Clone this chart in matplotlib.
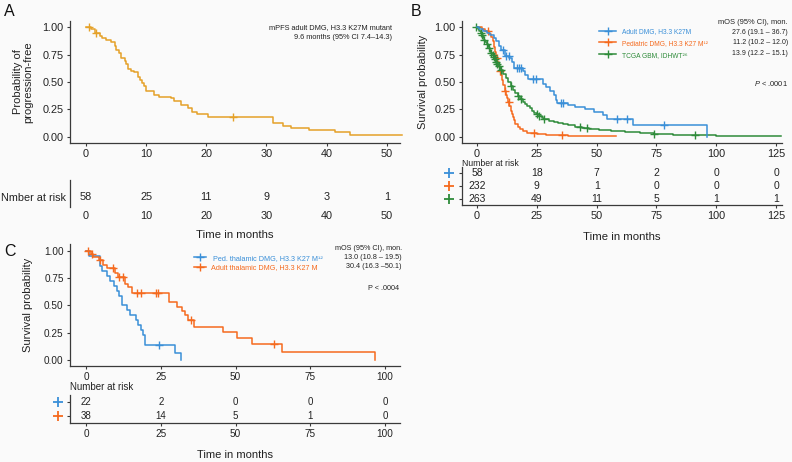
import numpy as np
import matplotlib
matplotlib.use('Agg')
import matplotlib.pyplot as plt
from matplotlib.lines import Line2D
from matplotlib.transforms import blended_transform_factory

plt.rcParams['font.family'] = ['Liberation Sans', 'DejaVu Sans']
plt.rcParams['mathtext.fontset'] = 'custom'
plt.rcParams['mathtext.rm'] = 'Liberation Sans'
plt.rcParams['mathtext.it'] = 'Liberation Sans:italic'

# ---------------- Panel A data ----------------
a_times = [0, 0.8, 1.5, 2.3, 2.6, 3.4, 4.2, 4.9, 5.0, 5.5, 5.8, 6.5, 6.7, 6.9, 7.4, 7.9,
           8.6, 8.9, 9.3, 9.6, 10.0, 11.3, 12.2, 14.1, 14.7, 15.8, 17.0, 17.7, 18.5, 20.2,
           31.1, 32.8, 34.1, 37.1, 41.4, 43.9]
a_surv = [1.0, 0.983, 0.95, 0.92, 0.90, 0.88, 0.86, 0.83, 0.79, 0.76, 0.72, 0.69, 0.66, 0.62,
          0.60, 0.59, 0.55, 0.52, 0.49, 0.46, 0.42, 0.38, 0.36, 0.35, 0.33, 0.29, 0.26, 0.23,
          0.21, 0.18, 0.13, 0.10, 0.083, 0.065, 0.043, 0.02]
a_end = 52.5
a_cens = [0.5, 1.7, 24.5]
a_risk_times = [0, 10, 20, 30, 40, 50]
a_risk = [58, 25, 11, 9, 3, 1]

# ---------------- Panel B data ----------------
b_labels = ['Adult DMG, H3.3 K27M', 'Pediatric DMG, H3.3 K27 M\u00b9\u00b2', 'TCGA GBM, IDHWT\u00b2\u2076']
b_mos = ['27.6 (19.1 \u2013 36.7)', '11.2 (10.2 \u2013 12.0)', '13.9 (12.2 \u2013 15.1)']

b1_times = [0, 1, 2.5, 4, 5.5, 7, 8, 9, 10, 11.5, 13.5, 14.5, 15.5, 19, 20, 21.5, 27.5, 29,
            30.5, 32, 33, 33.5, 38, 41, 45, 49, 52.5, 54.5, 65.3, 96.3]
b1_surv = [1.0, 0.983, 0.966, 0.95, 0.93, 0.90, 0.87, 0.83, 0.79, 0.74, 0.72, 0.68, 0.63, 0.60,
           0.56, 0.53, 0.48, 0.45, 0.42, 0.38, 0.34, 0.31, 0.29, 0.27, 0.25, 0.23, 0.20, 0.165,
           0.105, 0.0]
b1_end = 96.3
b1_cens = [10.9, 12.0, 13.4, 16.5, 17.5, 18.5, 23.4, 24.5, 35.0, 36.0, 58.5, 62.5, 78.2]

b2_times = [0, 2, 3.5, 5, 6, 6.5, 7, 7.5, 8, 8.5, 9, 9.5, 10, 10.5, 11, 11.5, 12, 12.5, 13,
            13.5, 14, 14.5, 15, 15.5, 16, 17, 18, 19, 21, 25, 29, 38]
b2_surv = [1.0, 0.985, 0.965, 0.94, 0.91, 0.87, 0.82, 0.77, 0.72, 0.68, 0.64, 0.60, 0.56, 0.52,
           0.47, 0.42, 0.38, 0.35, 0.32, 0.28, 0.24, 0.21, 0.18, 0.15, 0.12, 0.09, 0.07, 0.05,
           0.04, 0.03, 0.02, 0.012]
b2_end = 58
b2_cens = [4.6, 8.2, 9.5, 11.6, 13.4, 24.0, 35.6]

b3_times = [0, 0.5, 1, 1.5, 2, 2.5, 3, 3.5, 4, 4.5, 5, 5.5, 6, 6.5, 7, 7.5, 8, 8.5, 9, 9.5, 10,
            11, 12, 13, 14, 15, 16, 17, 18, 19, 20, 21, 22, 23, 24, 25, 26, 27, 28, 30, 32, 34,
            36, 38, 41, 44, 47, 51, 56, 62, 68, 74, 82, 90, 100]
b3_surv = [1.0, 0.985, 0.965, 0.945, 0.925, 0.905, 0.885, 0.865, 0.845, 0.825, 0.805, 0.785,
           0.765, 0.745, 0.725, 0.705, 0.685, 0.665, 0.645, 0.625, 0.605, 0.57, 0.535, 0.50,
           0.465, 0.43, 0.40, 0.37, 0.345, 0.32, 0.30, 0.28, 0.26, 0.24, 0.22, 0.205, 0.19,
           0.175, 0.16, 0.145, 0.135, 0.125, 0.115, 0.105, 0.095, 0.085, 0.075, 0.065, 0.055,
           0.045, 0.038, 0.03, 0.022, 0.015, 0.012]
b3_end = 127
b3_cens = [-0.5, 1.5, 2.2, 3.0, 4.0, 5.0, 6.0, 6.5, 7.0, 7.5, 8.0, 8.5, 9.0, 10.0, 14.0, 17.0,
           18.5, 25.0, 26.0, 28.0, 43.0, 46.0, 74.0, 91.0]

b_risk_times = [0, 25, 50, 75, 100, 125]
b_risk = [[58, 18, 7, 2, 0, 0],
          [232, 9, 1, 0, 0, 0],
          [263, 49, 11, 5, 1, 1]]

# ---------------- Panel C data ----------------
c_labels = [' Ped. thalamic DMG, H3.3 K27 M\u00b9\u00b2', 'Adult thalamic DMG, H3.3 K27 M']
c_mos = ['13.0 (10.8 \u2013 19.5)', '30.4 (16.3 \u201350.1)']

c1_times = [0, 1, 4.7, 5.5, 7, 8, 9.5, 10.5, 11.2, 11.9, 13.6, 14.7, 16.7, 17.5, 18.3, 19.2,
            19.8, 29.7, 31.8]
c1_surv = [1.0, 0.955, 0.864, 0.818, 0.773, 0.727, 0.682, 0.636, 0.591, 0.5, 0.455, 0.409,
           0.364, 0.318, 0.273, 0.227, 0.136, 0.068, 0.0]
c1_end = 31.8
c1_cens = [24.5]

c2_times = [0, 1.6, 2.5, 4.5, 5.8, 7, 9.7, 10.8, 13, 14.2, 15.3, 27.6, 30.3, 32, 33.2, 34.2,
            36, 45.9, 50.4, 55.5, 65.4, 96.6]
c2_surv = [1.0, 0.974, 0.947, 0.921, 0.868, 0.842, 0.80, 0.763, 0.70, 0.67, 0.615, 0.535,
           0.49, 0.45, 0.41, 0.37, 0.305, 0.26, 0.20, 0.15, 0.075, 0.0]
c2_end = 96.6
c2_cens = [0.8, 2.0, 4.7, 9.1, 11.2, 12.5, 17.0, 18.5, 23.3, 24.2, 35.0, 62.8]

c_risk_times = [0, 25, 50, 75, 100]
c_risk = [[22, 2, 0, 0, 0],
          [38, 14, 5, 1, 0]]

# ---------------- styling ----------------
W, H = 792, 462
BG = '#fafafa'
SP = '#3a3a3a'
GOLD = '#E5A128'
BLUE = '#3A8FD8'
ORANGE = '#F56A1E'
GREEN = '#2E8B3A'
TXT = '#222222'

fig = plt.figure(figsize=(W / 100, H / 100), dpi=100)
fig.patch.set_facecolor(BG)


def rect(l, t, r, b):
    return [l / W, 1 - b / H, (r - l) / W, (b - t) / H]


def fy(y):
    return 1 - y / H


def fx(x):
    return x / W


def style(ax, xlim, ylim, xticks, fs, yticks=None, bottom=True):
    ax.set_facecolor(BG)
    ax.patch.set_alpha(0)
    for s in ['top', 'right']:
        ax.spines[s].set_visible(False)
    for s in ['left', 'bottom']:
        ax.spines[s].set_color(SP)
        ax.spines[s].set_linewidth(0.9)
    ax.spines['bottom'].set_visible(bottom)
    ax.set_xlim(*xlim)
    ax.set_ylim(*ylim)
    ax.set_xticks(xticks)
    ax.tick_params(axis='both', colors=SP, labelcolor=TXT, labelsize=fs, length=2.5, width=0.8, pad=2)
    if yticks is not None:
        ax.set_yticks(yticks)


def km(ax, times, surv, end, cens, color):
    t = list(times) + [end]
    s = list(surv) + [surv[-1]]
    ax.step(t, s, where='post', color=color, lw=1.1, clip_on=False)
    ct = np.array(cens)
    idx = np.clip(np.searchsorted(times, ct, side='right') - 1, 0, None)
    cs = np.array(surv)[idx]
    ax.plot(ct, cs, linestyle='none', marker='+', color=color, ms=6, mew=1.0, clip_on=False)


yt = [0, 0.25, 0.5, 0.75, 1.0]
ytl = ['0.00', '0.25', '0.50', '0.75', '1.00']

# ================= Panel A =================
axA = fig.add_axes(rect(70, 21, 400, 143))
style(axA, (-2.66, 52.2), (-0.055, 1.055), a_risk_times, 7.8, yt)
axA.set_yticklabels(ytl)
km(axA, a_times, a_surv, a_end, a_cens, GOLD)
fig.text(fx(392), fy(28), 'mPFS adult DMG, H3.3 K27M mutant', ha='right', va='center', fontsize=5.3, color=TXT)
fig.text(fx(392), fy(37.5), '9.6 months (95% CI 7.4\u201314.3)', ha='right', va='center', fontsize=5.3, color=TXT)
fig.text(fx(23), fy(82), 'Probability of\nprogression-free', rotation=90, ha='center', va='center',
         fontsize=8, color=TXT, linespacing=1.05)
fig.text(fx(4), fy(12), 'A', fontsize=11.5, ha='left', va='center', color='#111111')

axAr = fig.add_axes(rect(70, 180, 400, 207))
style(axAr, (-2.66, 52.2), (0, 1), a_risk_times, 7.8, [0.37], bottom=False)
axAr.tick_params(axis='x', length=0, pad=3)
axAr.tick_params(axis='y', length=0, pad=3)
axAr.set_yticklabels(['Nmber at risk'])
for t, n in zip(a_risk_times, a_risk):
    axAr.text(t, 0.37, str(n), ha='center', va='center', fontsize=7.8, color=TXT)
fig.text(fx(235), fy(235), 'Time in months', ha='center', va='center', fontsize=8.2, color=TXT)

# ================= Panel B =================
axB = fig.add_axes(rect(462, 21, 782, 143))
style(axB, (-6.3, 127.5), (-0.055, 1.055), b_risk_times, 7.8, yt)
axB.tick_params(axis='x', pad=1.5)
axB.set_yticklabels(ytl)
b_colors = [BLUE, ORANGE, GREEN]
km(axB, b2_times, b2_surv, b2_end, b2_cens, ORANGE)
km(axB, b3_times, b3_surv, b3_end, b3_cens, GREEN)
km(axB, b1_times, b1_surv, b1_end, b1_cens, BLUE)
handles = [Line2D([], [], color=c, marker='+', ms=6, mew=1.0, lw=1.1) for c in b_colors]
legB = axB.legend(handles, b_labels, loc='upper left', bbox_to_anchor=(fx(599), fy(28)),
                  bbox_transform=fig.transFigure, frameon=False, fontsize=4.8, handlelength=2.6,
                  handletextpad=0.9, labelspacing=0.72, borderpad=0, borderaxespad=0,
                  labelcolor='linecolor')
fig.text(fx(788), fy(23), 'mOS (95% CI), mon.', ha='right', va='center', fontsize=5.4, color=TXT)
for i, m in enumerate(b_mos):
    fig.text(fx(788), fy(32.5 + 10.5 * i), m, ha='right', va='center', fontsize=5.0, color=TXT)
fig.text(fx(788), fy(83), '$\\it{P}$ < .0001', ha='right', va='center', fontsize=5.4, color=TXT)
fig.text(fx(423), fy(82), 'Survival probability', rotation=90, ha='center', va='center', fontsize=8, color=TXT)
fig.text(fx(411), fy(12), 'B', fontsize=11.5, ha='left', va='center', color='#111111')

fig.text(fx(462), fy(163.5), 'Number at risk', ha='left', va='center', fontsize=6.2, color=TXT)
axBr = fig.add_axes(rect(462, 166.6, 782, 205))
style(axBr, (-6.3, 127.5), (-0.5, 2.5), b_risk_times, 7.8, [2, 1, 0])
axBr.set_yticklabels(['', '', ''])
tr = blended_transform_factory(axBr.transAxes, axBr.transData)
for i, (row, c) in enumerate(zip(b_risk, b_colors)):
    yv = 2 - i
    for t, n in zip(b_risk_times, row):
        axBr.text(t, yv, str(n), ha='center', va='center', fontsize=7.5, color=TXT)
    axBr.plot([-0.04], [yv], marker='+', color=c, ms=7, mew=1.3, transform=tr, clip_on=False)
fig.text(fx(622), fy(237), 'Time in months', ha='center', va='center', fontsize=8.2, color=TXT)

# ================= Panel C =================
axC = fig.add_axes(rect(70, 244, 400, 366))
style(axC, (-5.35, 105), (-0.055, 1.064), c_risk_times, 7.2, yt)
axC.set_yticklabels(ytl)
c_colors = [BLUE, ORANGE]
km(axC, c1_times, c1_surv, c1_end, c1_cens, BLUE)
km(axC, c2_times, c2_surv, c2_end, c2_cens, ORANGE)
handlesC = [Line2D([], [], color=c, marker='+', ms=6, mew=1.0, lw=1.1) for c in c_colors]
legC = axC.legend(handlesC, c_labels, loc='upper left', bbox_to_anchor=(fx(194), fy(254.5)),
                  bbox_transform=fig.transFigure, frameon=False, fontsize=5.2, handlelength=1.6,
                  handletextpad=0.7, labelspacing=0.35, borderpad=0, borderaxespad=0,
                  labelcolor='linecolor')
fig.text(fx(402), fy(248), 'mOS (95% CI), mon.', ha='right', va='center', fontsize=5.2, color=TXT)
for i, m in enumerate(c_mos):
    fig.text(fx(402), fy(257.5 + 9.5 * i), m, ha='right', va='center', fontsize=5.2, color=TXT)
fig.text(fx(399), fy(289), 'P < .0004', ha='right', va='center', fontsize=5.2, color=TXT)
fig.text(fx(28), fy(305), 'Survival probability', rotation=90, ha='center', va='center', fontsize=8, color=TXT)
fig.text(fx(4), fy(251), 'C', fontsize=11.5, ha='left', va='center', color='#111111')

fig.text(fx(70), fy(387), 'Number at risk', ha='left', va='center', fontsize=7, color=TXT)
axCr = fig.add_axes(rect(70, 395, 400, 423))
style(axCr, (-5.35, 105), (-0.5, 1.5), c_risk_times, 7.2, [1, 0])
axCr.set_yticklabels(['', ''])
trc = blended_transform_factory(axCr.transAxes, axCr.transData)
for i, (row, c) in enumerate(zip(c_risk, c_colors)):
    yv = 1 - i
    for t, n in zip(c_risk_times, row):
        axCr.text(t, yv, str(n), ha='center', va='center', fontsize=7, color=TXT)
    axCr.plot([-0.035], [yv], marker='+', color=c, ms=7, mew=1.3, transform=trc, clip_on=False)
fig.text(fx(235), fy(455), 'Time in months', ha='center', va='center', fontsize=8, color=TXT)

fig.savefig('out.png', dpi=100, facecolor=BG)
